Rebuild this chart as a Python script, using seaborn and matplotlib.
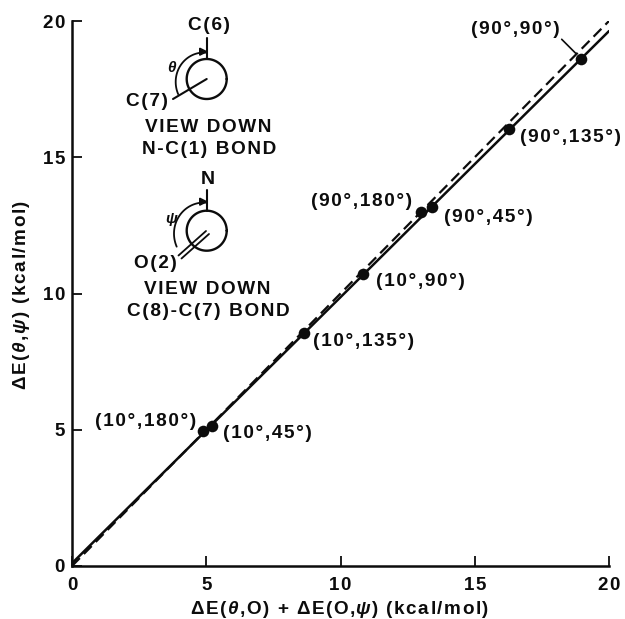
import numpy as np
import pandas as pd
import matplotlib
matplotlib.use("Agg")
import matplotlib.pyplot as plt
import seaborn as sns

sns.set_theme(style="ticks")
plt.rcParams['font.family'] = ['Liberation Sans', 'DejaVu Sans']
plt.rcParams['font.weight'] = 'bold'
plt.rcParams['mathtext.fontset'] = 'custom'
plt.rcParams['mathtext.it'] = 'Liberation Sans:italic:bold'
plt.rcParams['mathtext.rm'] = 'Liberation Sans:bold'

point_labels = ["(10°,180°)", "(10°,45°)", "(10°,135°)", "(10°,90°)",
                "(90°,180°)", "(90°,45°)", "(90°,135°)", "(90°,90°)"]
sum_energy = [4.88, 5.2, 8.64, 10.85, 13.0, 13.4, 16.27, 18.96]
joint_energy = [4.95, 5.15, 8.55, 10.7, 13.0, 13.17, 16.04, 18.6]
fit_x = [0, 20]
fit_y = [0.1, 19.63]
unity_x = [0, 20]
unity_y = [0, 20]
ticks = [0, 5, 10, 15, 20]
ink = "#0c0c0c"

W, H = 625, 619
HAIR = "\u200a"


def sp(s):
    return HAIR.join(s)


fig = plt.figure(figsize=(W/100, H/100), dpi=100, facecolor="white")
ax = fig.add_axes([72/W, (H-566)/H, 537/W, 545/H])

df_fit = pd.DataFrame({"x": fit_x, "y": fit_y})
df_unity = pd.DataFrame({"x": unity_x, "y": unity_y})
df_pts = pd.DataFrame({"x": sum_energy, "y": joint_energy, "label": point_labels})
sns.lineplot(data=df_fit, x="x", y="y", ax=ax, color=ink, lw=1.8, errorbar=None)
sns.lineplot(data=df_unity, x="x", y="y", ax=ax, color=ink, lw=1.6, errorbar=None,
             linestyle=(0, (5, 2.6)))
sns.scatterplot(data=df_pts, x="x", y="y", ax=ax, color=ink, s=70, linewidth=0, zorder=5, clip_on=False)

ax.set_xlim(0, 20)
ax.set_ylim(0, 20)
ax.set_xticks(ticks)
ax.set_yticks(ticks)
ax.set_xticklabels([sp(str(t)) for t in ticks])
ax.set_yticklabels([sp(str(t)) for t in ticks])
ax.tick_params(direction="in", length=7, width=1.3, labelsize=13.5, colors=ink)
ax.tick_params(axis="x", pad=8)
ax.tick_params(axis="y", pad=5)
for s in ["left", "bottom"]:
    ax.spines[s].set_linewidth(1.8)
    ax.spines[s].set_color(ink)
sns.despine(ax=ax)
ax.set_xlabel("")
ax.set_ylabel("")

# overlay in pixel coordinates for annotations and the inset schematic
ov = fig.add_axes([0, 0, 1, 1], facecolor="none")
ov.set_xlim(0, W)
ov.set_ylim(H, 0)
ov.axis("off")

xlabel = sp("ΔE(") + HAIR + r"$\theta$" + HAIR + sp(",O) + ΔE(O,") + r"$\psi$" + HAIR + sp(") (kcal/mol)")
ylabel = sp("ΔE(") + HAIR + r"$\theta$" + HAIR + "," + HAIR + r"$\psi$" + HAIR + sp(") (kcal/mol)")
ov.text(340, 609, xlabel, ha="center", va="center", fontsize=13.6, color=ink)
ov.text(22, 295, ylabel, ha="center", va="center", fontsize=13.6, color=ink, rotation=90)

label_pos = [(145.5, 421), (267, 433), (364, 342), (420, 282),
             (361.5, 201), (488, 218), (570, 138), (515, 29)]
for t, (px, py) in zip(point_labels, label_pos):
    ov.text(px, py, sp(t), ha="center", va="center", fontsize=13.7, color=ink)
ov.plot([561.7, 575.7], [39.3, 53.3], color=ink, lw=1.2)


def txt(x, y, s, **k):
    k.setdefault("fontsize", 13.7)
    ov.text(x, y, s, ha="center", va="center", color=ink, **k)


def schematic(cy, top):
    cx = 206.7
    t = np.linspace(np.pi/2, np.radians(208), 40)
    r = np.linspace(cy-top-1, cy-top+5, 40)
    ov.plot(cx + r*np.cos(t), cy - r*np.sin(t), color=ink, lw=1.3)
    ov.add_patch(plt.Polygon([[cx, top], [cx-7, top-3.5], [cx-7, top+3.5]], color=ink))
    th = np.linspace(0, 2*np.pi, 90)
    ov.plot(cx + 20*np.cos(th), cy + 20*np.sin(th), color=ink, lw=1.7)
    ov.plot([cx, cx], [cy-41, cy-20], color=ink, lw=1.5)


schematic(79, 51.7)
ov.plot([173, 206.7], [99, 79], color=ink, lw=1.5)
txt(209, 25, sp("C(6)"))
txt(146.7, 101, sp("C(7)"))
txt(171.7, 68, r"$\theta$", fontsize=11)
txt(207.7, 128, sp("VIEW DOWN"))
txt(209, 149, sp("N-C(1) BOND"))

schematic(230.7, 201.7)
ov.plot([178.5, 206], [255.5, 231], color=ink, lw=1.3)
ov.plot([181.5, 209], [258.5, 234], color=ink, lw=1.3)
txt(207.7, 179, "N", fontsize=14)
txt(155, 264, sp("O(2)"))
txt(171.7, 220, r"$\psi$", fontsize=11)
txt(207.5, 290, sp("VIEW DOWN"))
txt(208, 311, sp("C(8)-C(7) BOND"))

fig.savefig("out.png", dpi=100, facecolor="white")
